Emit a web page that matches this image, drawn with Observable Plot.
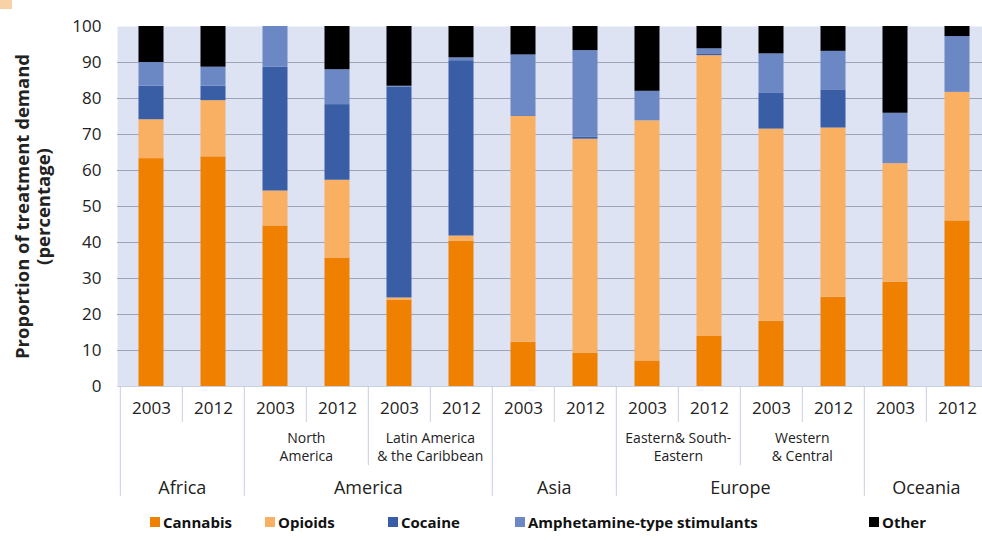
<!DOCTYPE html>
<html>
<head>
<meta charset="utf-8">
<script src="https://cdn.jsdelivr.net/npm/d3@7"></script>
<script src="https://cdn.jsdelivr.net/npm/@observablehq/plot@0.6"></script>
<style>
html, body { margin: 0; padding: 0; overflow: hidden; background: #fff; width: 982px; height: 540px; }
#wrap { position: relative; width: 990px; height: 540px; }
#chart { position: absolute; left: 0; top: 0; }
#corner { position: absolute; left: 0; top: 0; width: 12px; height: 9px; background: #f8d2a6; }
#legend { position: absolute; left: 0; top: 502px; height: 40px; width: 990px;
  font-family: "Open Sans", sans-serif; font-weight: bold; font-size: 15px; color: #111; }
#legend .item { position: absolute; top: 10px; display: flex; align-items: center; height: 20px; }
#legend .sw { width: 10px; height: 10px; margin-right: 3px; }
</style>
</head>
<body>
<div id="wrap">
  <div id="chart"></div>
  <div id="corner"></div>
  <div id="legend"></div>
</div>
<script>
// ---- data ----
const regions = ["Africa","Africa","America","America","America","America","Asia","Asia","Europe","Europe","Europe","Europe","Oceania","Oceania"];
const subregions = ["","","North\nAmerica","North\nAmerica","Latin America\n& the Caribbean","Latin America\n& the Caribbean","","","Eastern& South-\nEastern","Eastern& South-\nEastern","Western\n& Central","Western\n& Central","",""];
const years = ["2003","2012","2003","2012","2003","2012","2003","2012","2003","2012","2003","2012","2003","2012"];
const drugs = ["Cannabis","Opioids","Cocaine","Amphetamine-type stimulants","Other"];
const cannabis = [63.3, 63.8, 44.6, 35.7, 23.9, 40.4, 12.3,  9.3,  7.1, 13.9, 18.1, 24.8, 29.0, 46.0];
const opioids  = [10.8, 15.6,  9.7, 21.6,  0.7,  1.4, 62.7, 59.4, 66.7, 78.0, 53.4, 47.0, 32.9, 35.7];
const cocaine  = [ 9.3,  4.0, 34.4, 21.0, 58.5, 48.7,  0.2,  0.5,  0.0,  0.5,  9.9, 10.6,  0.0,  0.0];
const ats      = [ 6.6,  5.3, 11.3,  9.7,  0.3,  0.8, 16.9, 24.1,  8.2,  1.4, 11.0, 10.7, 14.0, 15.5];
const other    = [10.0, 11.3,  0.0, 12.0, 16.6,  8.7,  7.9,  6.7, 18.0,  6.2,  7.6,  6.9, 24.1,  2.8];
const yTicks = [0,10,20,30,40,50,60,70,80,90,100];

// ---- styles ----
const colors = ["#f08000", "#f9b063", "#3a5ea6", "#6c88c4", "#000000"];
const legendLeft = [150, 265, 388, 515, 869];

const W = 990, ML = 117, MR = 0, MT = 26, MB = 114, H = 500;
const n = years.length;
const step = (W - ML - MR) / n;
const idx = d3.range(n);
const series = [cannabis, opioids, cocaine, ats, other];
const table = [];
drugs.forEach((drug, k) => idx.forEach(i => table.push({i, drug, value: series[k][i]})));

// separators at band boundaries
const seps = idx.map(b => {
  let len;
  if (b === 0 || regions[b] !== regions[b-1]) len = -30.5;
  else if (subregions[b] !== subregions[b-1]) len = -22;
  else len = -10;
  return {b, len};
});
const subIdx = idx.filter(i => i > 0 && subregions[i] !== "" && subregions[i] === subregions[i-1]);
const regIdx = [];
d3.groups(idx, i => regions[i]).forEach(([r, arr]) => regIdx.push({i: arr[0] + Math.floor(arr.length/2), r}));

const chart = Plot.plot({
  width: W, height: H,
  marginLeft: ML, marginRight: MR, marginTop: MT, marginBottom: MB,
  style: {fontFamily: "Open Sans, sans-serif", fontSize: "17px", color: "#222", background: "transparent"},
  x: {domain: idx, padding: 0, axis: null},
  y: {domain: [0, 100], ticks: yTicks, tickSize: 0, tickPadding: 16, label: null},
  color: {domain: drugs, range: colors},
  marks: [
    Plot.frame({fill: "#dde3f3", stroke: null}),
    Plot.ruleY(yTicks.filter(t => t > 0 && t < 100), {stroke: "#9ea4b7", strokeWidth: 1}),
    Plot.barY(table, {x: "i", y: "value", fill: "drug", insetLeft: 18.5, insetRight: 18.5}),
    Plot.ruleY([0], {stroke: "#c9cfdf"}),
    Plot.ruleX(seps, {x: "b", dx: -step/2, y1: 0, y2: "len", stroke: "#c9cfdf", strokeWidth: 1}),
    Plot.text(idx, {x: i => i, text: i => years[i], frameAnchor: "bottom", lineAnchor: "middle", dy: 22, fontSize: 17}),
    Plot.text(subIdx, {x: i => i, text: i => subregions[i], frameAnchor: "bottom", lineAnchor: "middle", dx: -step/2, dy: 60, fontSize: 14, lineHeight: 1.3}),
    Plot.text(regIdx, {x: "i", text: "r", frameAnchor: "bottom", lineAnchor: "middle", dx: -step/2, dy: 102, fontSize: 18}),
    Plot.text(["Proportion of treatment demand\n(percentage)"], {text: d => d, frameAnchor: "left", textAnchor: "middle", lineAnchor: "middle", rotate: -90, dx: -85, fontWeight: "bold", fontSize: 18.5, lineHeight: 1.15, fill: "#222"})
  ]
});
document.getElementById("chart").appendChild(chart);

const leg = document.getElementById("legend");
drugs.forEach((d, k) => {
  const it = document.createElement("div");
  it.className = "item";
  it.style.left = legendLeft[k] + "px";
  const sw = document.createElement("span");
  sw.className = "sw";
  sw.style.background = colors[k];
  const tx = document.createElement("span");
  tx.textContent = d;
  it.appendChild(sw); it.appendChild(tx);
  leg.appendChild(it);
});
</script>
</body>
</html>
